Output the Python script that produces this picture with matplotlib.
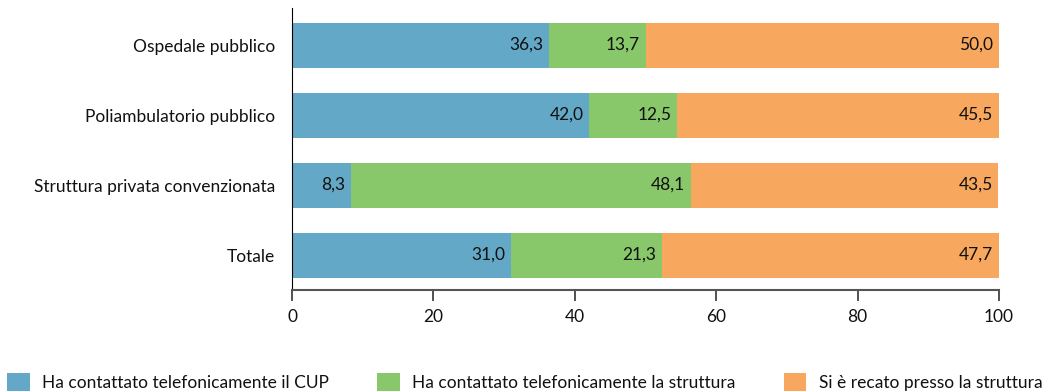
import matplotlib.pyplot as plt
from matplotlib.patches import Patch

# Modalità di prenotazione per tipo di struttura (%)
strutture = ['Ospedale pubblico', 'Poliambulatorio pubblico',
             'Struttura privata convenzionata', 'Totale']
cup = [36.3, 42.0, 8.3, 31.0]
telefono_struttura = [13.7, 12.5, 48.1, 21.3]
di_persona = [50.0, 45.5, 43.5, 47.7]
serie_labels = ['Ha contattato telefonicamente il CUP',
                'Ha contattato telefonicamente la struttura',
                'Si è recato presso la struttura']
colori = ['#63a8c6', '#88c76a', '#f8a85e']

plt.rcParams['font.family'] = ['Lato', 'DejaVu Sans']

fig = plt.figure(figsize=(10.49, 3.91), dpi=100)
ax = fig.add_axes([292 / 1049, 1 - 290 / 391, 707 / 1049, 282 / 391])

y = list(range(len(strutture)))
left = [0.0] * len(strutture)
for valori, colore in zip([cup, telefono_struttura, di_persona], colori):
    bars = ax.barh(y, valori, left=left, height=0.643, color=colore)
    for b, v in zip(bars, valori):
        ax.text(b.get_x() + b.get_width() - 0.8, b.get_y() + b.get_height() / 2,
                f'{v:.1f}'.replace('.', ','), ha='right', va='center',
                fontsize=12.5, color='#111111')
    left = [l + v for l, v in zip(left, valori)]

ax.set_xlim(0, 100)
ax.set_ylim(3.5, -0.53)
ax.set_yticks(y)
ax.set_yticklabels(strutture, fontsize=12.5, color='#111111')
ax.set_xticks([0, 20, 40, 60, 80, 100])
ax.tick_params(axis='y', length=0, pad=12)
ax.tick_params(axis='x', length=8, width=1.2, color='#333333', labelsize=12.5,
               labelcolor='#111111', pad=6)
ax.spines['top'].set_visible(False)
ax.spines['right'].set_visible(False)
ax.spines['left'].set_color('black')
ax.spines['bottom'].set_color('#555555')
ax.spines['bottom'].set_linewidth(1.5)

handles = [Patch(facecolor=c) for c in colori]
fig.legend(handles, serie_labels, ncol=3, loc='lower left',
           bbox_to_anchor=(0.0, -0.02), frameon=False, fontsize=12.5,
           handlelength=1.3, handleheight=1.3, handletextpad=0.7,
           columnspacing=2.8, borderaxespad=0, borderpad=0.4,
           labelcolor='#111111')

fig.savefig('out.png', dpi=100)
